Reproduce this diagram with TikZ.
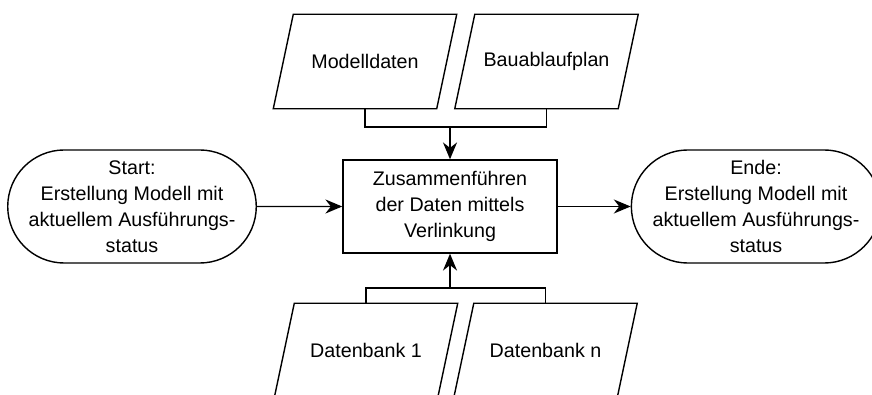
\documentclass[tikz,border=0pt]{standalone}
\usepackage{fontspec}
\setmainfont{Liberation Sans}
\usetikzlibrary{arrows.meta,positioning,calc,shapes.geometric,shapes.misc}

\tikzset{
  base/.style={font=\fontsize{14}{18.5}\selectfont, align=center, line width=1pt},
  process/.style={base, draw, minimum width=5.35cm, minimum height=2.325cm},
  data/.style={base, minimum width=4.05cm, minimum height=2.325cm},
  term/.style={base, draw, rounded rectangle, minimum width=6.2cm, minimum height=2.825cm, inner xsep=-2pt},
  arr/.style={-{Stealth[length=12pt,width=10pt]}, line width=1pt},
}

% slanted outline for the data nodes
\newcommand{\drawdata}[1]{%
  \draw[line width=1pt] ($(#1.north west)+(0.25cm,0)$) -- ($(#1.north east)+(0.25cm,0)$)
    -- ($(#1.south east)+(-0.25cm,0)$) -- ($(#1.south west)+(-0.25cm,0)$) -- cycle;}

\begin{document}
\begin{tikzpicture}[x=0.025cm, y=0.025cm]
  \clip (0,0) rectangle (872,394);

  \node[process] (verl) at (450,187.5) {Zusammenführen\\der Daten mittels\\Verlinkung};

  \node[term] (start) at (132,187.5)
    {Start:\\Erstellung Modell mit\\aktuellem Ausführungs-\\status};
  \node[term] (ende) at (756,187.5)
    {Ende:\\Erstellung Modell mit\\aktuellem Ausführungs-\\status};

  % inputs
  \node[data] (mod) at (365,332.5) {Modelldaten};
  \node[data] (bau) at (546.5,332.5) {Bauablaufplan};
  \node[data] (db1) at (366,43.5) {Datenbank 1};
  \node[data] (dbn) at (545.5,43.5) {Datenbank n};
  \drawdata{mod}
  \drawdata{bau}
  \drawdata{db1}
  \drawdata{dbn}

  \coordinate (top) at (450,267);
  \coordinate (bot) at (450,106);

  \draw[line width=1pt] (mod.south) |- (top) -| (bau.south);
  \draw[arr] (top) -- (verl.north);
  \draw[line width=1pt] (db1.north) |- (bot) -| (dbn.north);
  \draw[arr] (bot) -- (verl.south);

  \draw[arr] (start) -- (verl);
  \draw[arr] (verl) -- (ende);
\end{tikzpicture}
\end{document}
